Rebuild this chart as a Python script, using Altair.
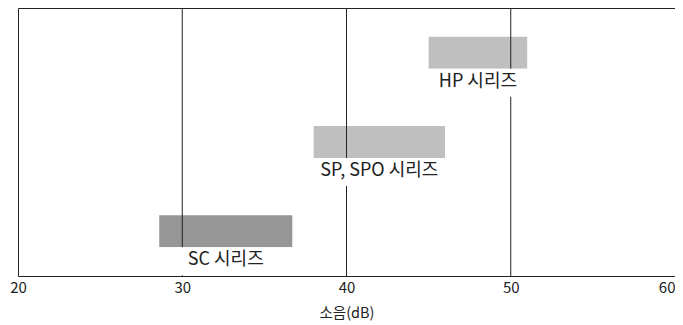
import altair as alt
import pandas as pd

series = ["HP 시리즈", "SP, SPO 시리즈", "SC 시리즈"]
starts = [45.0, 38.0, 28.6]
ends = [51.0, 46.0, 36.7]
colors = ["#bfbfbf", "#bfbfbf", "#969696"]
grid_values = [30, 40, 50]
tick_values = [20, 30, 40, 50, 60]

df = pd.DataFrame({"series": series, "start": starts, "end": ends, "color": colors})
grid_df = pd.DataFrame({"x": grid_values})

FONT = "Noto Sans CJK KR"

xscale = alt.Scale(domain=[20, 60], nice=False, zero=False)
yenc = alt.Y("series:N", sort=series, axis=None,
             scale=alt.Scale(paddingInner=0, paddingOuter=0))

base = alt.Chart(df).encode(y=yenc)

bars = base.mark_bar(size=32).encode(
    x=alt.X("start:Q", scale=xscale,
            axis=alt.Axis(values=tick_values, grid=False, ticks=False, domain=False,
                          labelFont=FONT, labelFontSize=15, labelColor="#222",
                          labelPadding=4, labelFlush=False,
                          labelAlign=alt.ExprRef("datum.value == 60 ? 'right' : 'center'"),
                          title="소음(dB)", titleFont=FONT, titleFontSize=14.5,
                          titleFontWeight="normal", titleColor="#222", titlePadding=11)),
    x2="end:Q",
    color=alt.Color("color:N", scale=None),
)

rules = alt.Chart(grid_df).mark_rule(color="#222", strokeWidth=1).encode(
    x=alt.X("x:Q", scale=xscale)
)

masks = base.mark_bar(size=28, yOffset=30, color="white").encode(
    x=alt.X("start:Q", scale=xscale), x2="end:Q"
)

labels = base.transform_calculate(mid="(datum.start + datum.end) / 2").mark_text(
    font=FONT, fontSize=18, color="#222", baseline="middle", dy=29
).encode(x=alt.X("mid:Q", scale=xscale), text="series:N")

chart = alt.layer(bars, rules, masks, labels).properties(
    width=657, height=268,
    autosize=alt.AutoSizeParams(type="none"),
    padding={"left": 10, "top": 0, "right": 0, "bottom": 49},
).configure_view(stroke="#222", strokeWidth=1)

chart.save("out.html", embed_options={"renderer": "svg", "actions": False})
